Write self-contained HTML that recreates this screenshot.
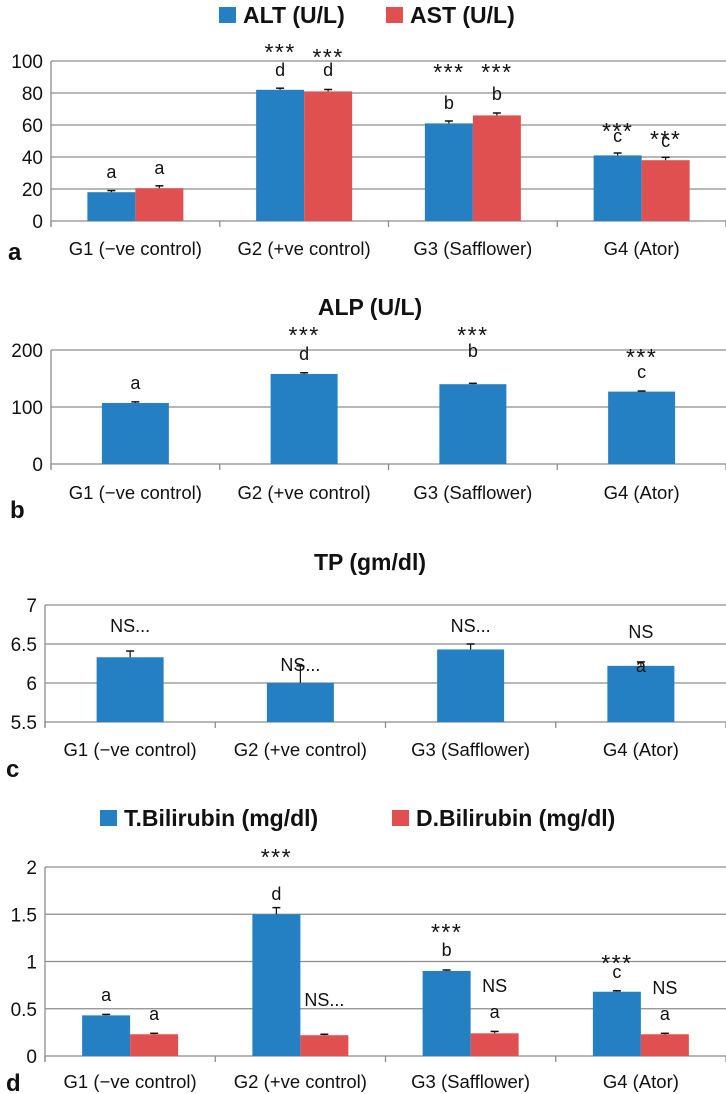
<!DOCTYPE html>
<html><head><meta charset="utf-8">
<style>
html,body{margin:0;padding:0;background:#fff;}
svg{display:block;font-family:"Liberation Sans",sans-serif;}
</style></head>
<body>
<svg id="chart" width="726" height="1094" viewBox="0 0 726 1094" xmlns="http://www.w3.org/2000/svg"></svg>
<script>
const categories = ["G1 (\u2212ve control)", "G2 (+ve control)", "G3 (Safflower)", "G4 (Ator)"];
// Panel a
const altValues = [18, 82, 61, 41];
const altErr = [1, 1, 1.5, 1.5];
const astValues = [20.5, 81, 66, 38];
const astErr = [1.5, 1.2, 1.5, 1.8];
const aTicks = [0, 20, 40, 60, 80, 100];
const altLabels = [["a"], ["***", "d"], ["***", "b"], ["***", "c"]];
const astLabels = [["a"], ["***", "d"], ["***", "b"], ["***", "c"]];
// Panel b
const alpValues = [107, 158, 140, 127];
const alpErr = [2, 2, 1.5, 1];
const bTicks = [0, 100, 200];
const alpLabels = [["a"], ["***", "d"], ["***", "b"], ["***", "c"]];
// Panel c
const tpValues = [6.33, 6.0, 6.43, 6.22];
const tpErr = [0.08, 0.22, 0.07, 0.05];
const cTicks = [5.5, 6, 6.5, 7];
const tpLabels = [["NS..."], ["NS..."], ["NS..."], ["NS", "a"]];
// Panel d
const tbilValues = [0.43, 1.5, 0.9, 0.68];
const tbilErr = [0.01, 0.07, 0.01, 0.01];
const dbilValues = [0.23, 0.22, 0.24, 0.23];
const dbilErr = [0.01, 0.01, 0.02, 0.01];
const dTicks = [0, 0.5, 1, 1.5, 2];
const tbilLabels = [["a"], ["***", "d"], ["***", "b"], ["***", "c"]];
const dbilLabels = [["a"], ["NS..."], ["NS", "a"], ["NS", "a"]];

const BLUE = "#2580c3", RED = "#e05050";
const svg = document.getElementById("chart");
const NS = "http://www.w3.org/2000/svg";
function mk(tag, attrs, parent) {
  const e = document.createElementNS(NS, tag);
  for (const k in attrs) e.setAttribute(k, attrs[k]);
  (parent || svg).appendChild(e);
  return e;
}
function txt(s, x, y, size, weight, anchor, parent) {
  const t = mk("text", {x: x, y: y, "font-size": size, "font-weight": weight || "normal", "text-anchor": anchor || "middle", fill: "#111"}, parent);
  t.textContent = s;
  return t;
}

function panel(p) {
  const g = mk("g", {});
  
  
  const min = p.ticks[0], max = p.ticks[p.ticks.length - 1];
  const y = v => p.y0 + (p.yTop - p.y0) * (v - min) / (max - min);
  const cw = (726 - p.x0) / categories.length;
  const x = i => p.x0 + cw * (i + 0.5);
  p.ticks.forEach(t => {
    const l = mk("line", {x1: p.x0, x2: 726, y1: y(t), y2: y(t), stroke: "#8c8c8c", "stroke-width": 1.3}, g);
    
    
    const tl = txt(String(t), p.x0 - 8, y(t) + 7, 19, "normal", "end", g);
    
    
  });
  mk("line", {x1: p.x0, x2: p.x0, y1: p.yTop, y2: p.y0 + 5, stroke: "#8c8c8c", "stroke-width": 1.3}, g);
  for (let i = 0; i <= categories.length; i++) {
    mk("line", {x1: p.x0 + cw * i, x2: p.x0 + cw * i, y1: p.y0, y2: p.y0 + 6, stroke: "#8c8c8c", "stroke-width": 1.3}, g);
  }
  categories.forEach((c, i) => {
    const cl = txt(c, x(i), p.labelY + 7, 18.5, "normal", "middle", g);
    
    
  });
  const n = p.series.length;
  const bw = n === 1 ? 67 : 48;
  p.series.forEach((s, si) => {
    s.values.forEach((v, i) => {
      const bx = x(i) - (n * bw) / 2 + si * bw;
      const r = mk("rect", {x: bx, y: y(v), width: bw, height: p.y0 - y(v), fill: s.color}, g);
      
      
      const cx = bx + bw / 2, ey = y(v + s.err[i]);
      mk("line", {x1: cx, x2: cx, y1: y(v), y2: ey, stroke: "#111", "stroke-width": 1.2}, g);
      mk("line", {x1: cx - 4, x2: cx + 4, y1: ey, y2: ey, stroke: "#111", "stroke-width": 1.5}, g);
      const lbl = s.labels[i];
      const offs = s.labelPos[i];
      lbl.forEach((L, li) => {
        let a;
        if (L === "***") {
          a = txt(L, cx, offs[li] + 13, 23, "normal", "middle", g);
          a.setAttribute("letter-spacing", "1.5");
        } else {
          a = txt(L, cx, offs[li] + 6, 18, "normal", "middle", g);
        }
        
        
      });
    });
  });
  const pl = txt(p.letter, p.letterX, p.letterY + 10, 24, "bold", "start", g);
  
  
}

function legend(items) {
  items.forEach(it => {
    const r = mk("rect", {x: it.x, y: it.y - 8, width: 17, height: 16, fill: it.color});
    
    
    const t = txt(it.text, it.x + 24, it.y + 8, 23, "bold", "start");
    
    
  });
}

legend([{x: 219, y: 15, color: BLUE, text: "ALT (U/L)"}, {x: 386, y: 15, color: RED, text: "AST (U/L)"}]);
panel({name: "panel-a-alt-ast", x0: 51, y0: 221, yTop: 61, ticks: aTicks, labelY: 248, letter: "a", letterX: 8, letterY: 250,
  series: [
    {key: "alt", color: BLUE, values: altValues, err: altErr, labels: altLabels, labelPos: [[172], [47, 70], [67, 103], [126, 136]]},
    {key: "ast", color: RED, values: astValues, err: astErr, labels: astLabels, labelPos: [[168], [52, 70], [67, 94], [134, 141]]}
  ]});

const tb = txt("ALP (U/L)", 370, 315, 23, "bold", "middle");


panel({name: "panel-b-alp", x0: 51, y0: 464, yTop: 350, ticks: bTicks, labelY: 492, letter: "b", letterX: 10, letterY: 508,
  series: [{key: "alp", color: BLUE, values: alpValues, err: alpErr, labels: alpLabels, labelPos: [[383], [330, 354], [330, 351], [352, 372]]}]});

const tc = txt("TP (gm/dl)", 370, 570, 23, "bold", "middle");


panel({name: "panel-c-tp", x0: 45, y0: 722, yTop: 605, ticks: cTicks, labelY: 749, letter: "c", letterX: 6, letterY: 767,
  series: [{key: "tp", color: BLUE, values: tpValues, err: tpErr, labels: tpLabels, labelPos: [[626], [665], [626], [632, 666]]}]});

legend([{x: 100, y: 818, color: BLUE, text: "T.Bilirubin (mg/dl)"}, {x: 392, y: 818, color: RED, text: "D.Bilirubin (mg/dl)"}]);
panel({name: "panel-d-bilirubin", x0: 45, y0: 1056, yTop: 867, ticks: dTicks, labelY: 1081, letter: "d", letterX: 6, letterY: 1081,
  series: [
    {key: "tbil", color: BLUE, values: tbilValues, err: tbilErr, labels: tbilLabels, labelPos: [[995], [852, 894], [927, 950], [958, 972]]},
    {key: "dbil", color: RED, values: dbilValues, err: dbilErr, labels: dbilLabels, labelPos: [[1014], [1000], [986, 1012], [988, 1014]]}
  ]});
</script>
</body></html>
